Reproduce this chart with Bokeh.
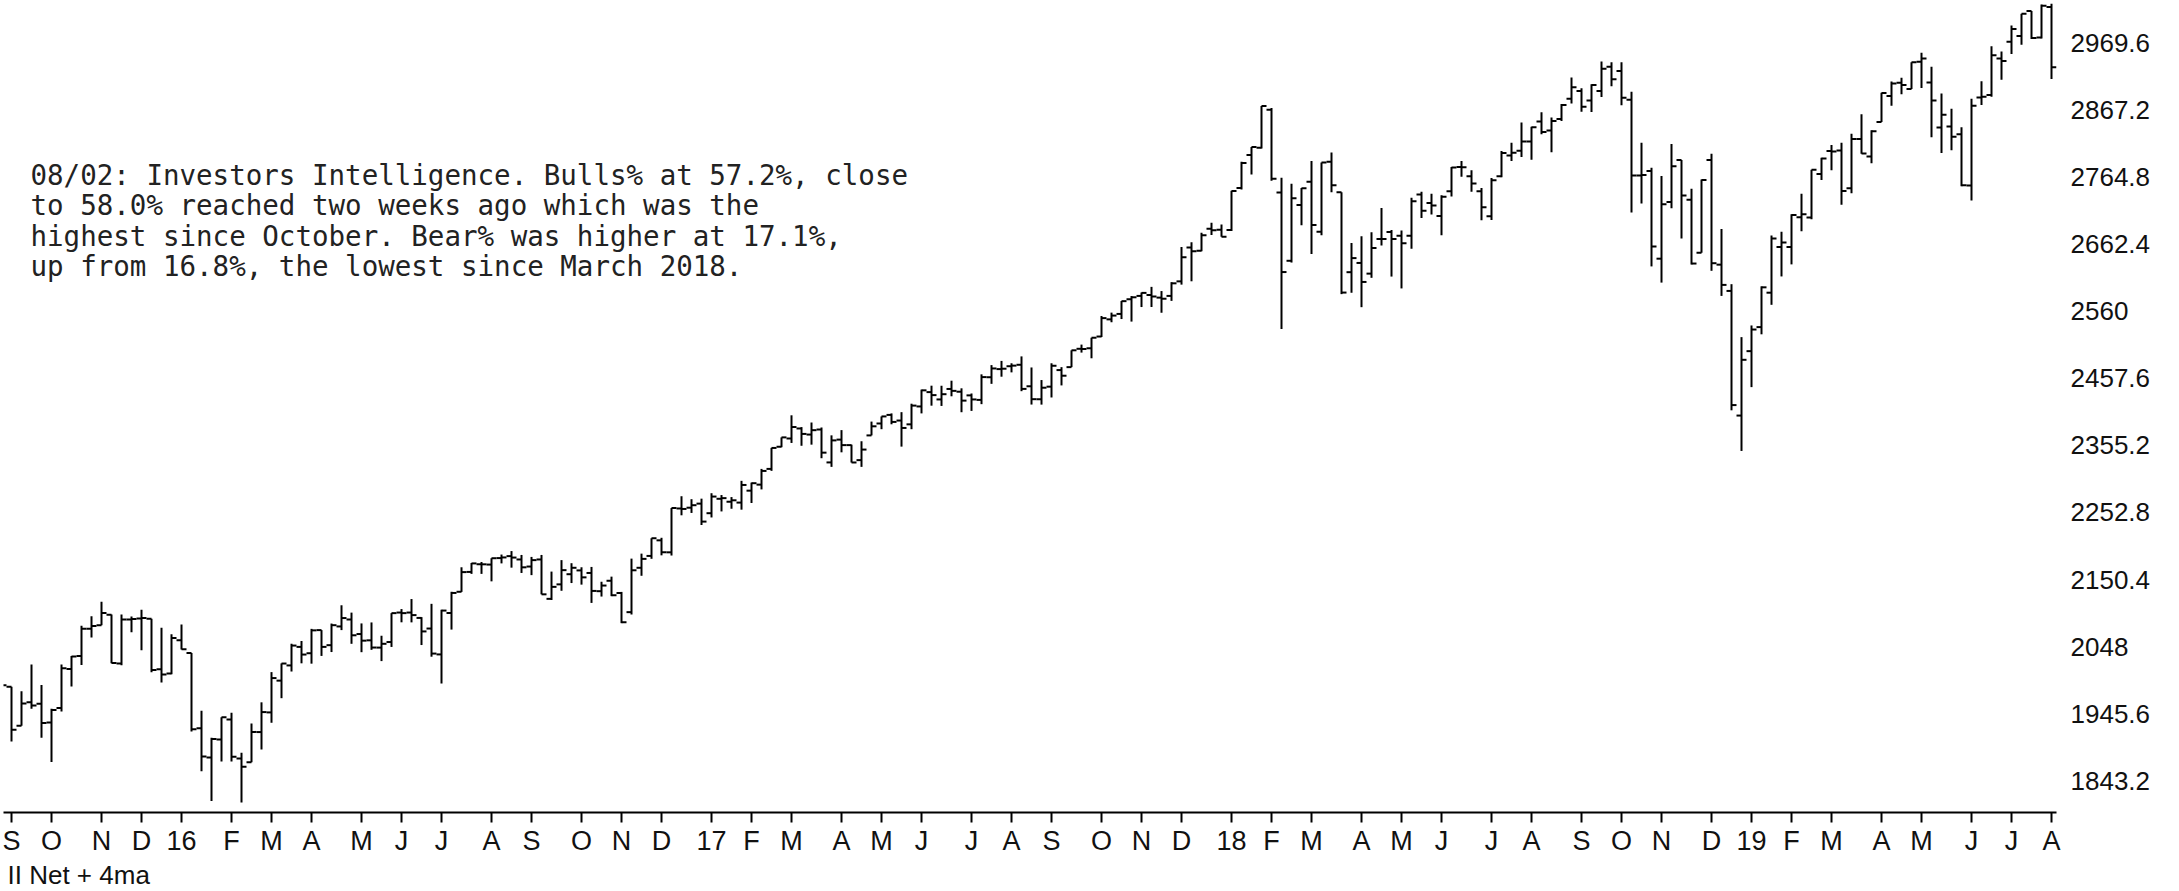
import pandas as pd
from bokeh.plotting import figure
from bokeh.models import ColumnDataSource, Range1d, LinearAxis, FixedTicker, Label, Title
from bokeh.embed import file_html
from bokeh.resources import INLINE

# ---------------- data (weekly bars, week ending Friday) ----------------
week_ending = pd.date_range("2015-08-28", "2019-08-02", freq="W-FRI")

open_ = [
    1965.2, 1986.7, 1927.3, 1963.1, 1960.8, 1932.2, 1954.3, 2013.7, 2033.5, 2075.1,
    2080.8, 2096.6, 2022.1, 2089.4, 2091.0, 2090.4, 2013.4, 2006.8, 2057.8, 2038.2,
    1923.3, 1878.9, 1906.3, 1936.9, 1877.1, 1871.4, 1917.6, 1947.6, 1996.1, 2019.3,
    2047.6, 2037.9, 2073.2, 2050.2, 2078.8, 2089.4, 2067.2, 2057.6, 2046.5, 2055.0,
    2100.0, 2100.0, 2091.8, 2075.6, 2036.1, 2099.3, 2131.7, 2162.0, 2173.7, 2173.2,
    2183.1, 2186.1, 2181.0, 2170.2, 2181.0, 2120.9, 2143.0, 2158.5, 2164.3, 2160.4,
    2132.6, 2148.5, 2129.8, 2100.6, 2168.3, 2186.4, 2210.2, 2191.9, 2258.8, 2260.0,
    2266.2, 2251.6, 2273.6, 2269.1, 2267.8, 2286.0, 2295.2, 2319.2, 2353.0, 2365.6,
    2380.9, 2371.6, 2379.3, 2329.1, 2363.9, 2355.5, 2332.6, 2370.3, 2388.5, 2401.6,
    2393.0, 2387.2, 2414.5, 2436.4, 2425.2, 2441.2, 2437.0, 2431.4, 2424.5, 2459.1,
    2471.5, 2475.9, 2478.1, 2445.3, 2425.5, 2444.7, 2470.0, 2474.5, 2502.5, 2503.3,
    2521.2, 2547.4, 2555.7, 2578.1, 2583.2, 2584.6, 2580.6, 2583.2, 2605.4, 2657.2,
    2652.2, 2685.5, 2684.2, 2683.7, 2747.7, 2798.4, 2809.2, 2867.2, 2741.1, 2636.8,
    2722.0, 2757.4, 2681.1, 2788.1, 2741.4, 2619.4, 2633.5, 2617.2, 2670.1, 2680.8,
    2675.0, 2675.0, 2738.0, 2725.0, 2705.0, 2742.9, 2780.0, 2765.8, 2742.9, 2704.9,
    2765.8, 2797.4, 2804.6, 2819.0, 2849.2, 2835.5, 2853.0, 2884.0, 2896.0, 2881.4,
    2896.0, 2933.0, 2926.3, 2882.5, 2767.1, 2773.9, 2640.0, 2726.4, 2790.5, 2730.0,
    2649.0, 2790.5, 2630.9, 2590.8, 2400.6, 2498.9, 2535.6, 2588.1, 2657.9, 2657.9,
    2703.3, 2702.9, 2769.3, 2804.4, 2805.0, 2747.6, 2822.6, 2796.0, 2848.6, 2888.3,
    2908.3, 2898.8, 2940.6, 2908.9, 2840.2, 2841.9, 2830.0, 2751.5, 2885.8, 2889.8,
    2945.4, 2971.0, 2980.0, 3017.8, 2977.7, 3023.9,
]
high = [
    1993.5, 1986.7, 1980.0, 2020.9, 1989.4, 1953.0, 2020.9, 2033.5, 2079.7, 2094.3,
    2116.5, 2097.0, 2097.1, 2094.0, 2104.3, 2090.4, 2076.7, 2067.0, 2081.6, 2038.2,
    1950.3, 1908.9, 1940.2, 1947.2, 1886.0, 1930.7, 1963.0, 2009.1, 2022.4, 2052.4,
    2056.6, 2075.1, 2073.2, 2083.2, 2111.1, 2099.9, 2083.4, 2084.9, 2064.6, 2099.1,
    2105.3, 2120.6, 2093.0, 2113.3, 2104.3, 2131.7, 2169.1, 2175.6, 2177.1, 2182.9,
    2188.5, 2193.8, 2187.9, 2184.9, 2187.9, 2162.5, 2180.0, 2175.3, 2169.1, 2169.6,
    2147.0, 2154.8, 2131.5, 2182.3, 2189.9, 2213.4, 2214.1, 2259.5, 2277.5, 2273.0,
    2273.8, 2282.1, 2279.3, 2276.2, 2301.0, 2298.3, 2319.2, 2351.3, 2367.3, 2401.0,
    2383.0, 2390.0, 2382.4, 2370.4, 2378.4, 2356.2, 2361.4, 2391.4, 2399.3, 2403.9,
    2405.8, 2418.7, 2440.2, 2446.2, 2446.1, 2453.8, 2442.2, 2434.3, 2463.5, 2477.6,
    2484.0, 2480.4, 2490.9, 2474.0, 2454.8, 2480.4, 2474.5, 2500.2, 2508.9, 2519.4,
    2552.5, 2557.7, 2575.4, 2583.0, 2588.4, 2597.0, 2590.6, 2604.2, 2657.7, 2665.2,
    2679.6, 2695.0, 2692.1, 2743.5, 2787.9, 2810.3, 2872.9, 2870.1, 2763.4, 2754.4,
    2747.8, 2789.2, 2786.6, 2801.9, 2741.4, 2664.0, 2674.4, 2680.3, 2717.5, 2683.6,
    2682.9, 2732.9, 2742.2, 2739.2, 2736.9, 2779.9, 2789.1, 2774.9, 2747.8, 2763.0,
    2804.5, 2816.8, 2848.0, 2841.2, 2863.4, 2855.6, 2876.2, 2916.5, 2900.2, 2906.3,
    2940.9, 2939.9, 2939.9, 2894.8, 2816.9, 2778.9, 2766.3, 2815.2, 2790.5, 2746.8,
    2760.9, 2800.2, 2685.4, 2601.1, 2520.3, 2538.1, 2597.8, 2675.5, 2681.1, 2708.0,
    2739.0, 2775.7, 2794.2, 2813.5, 2816.9, 2830.7, 2860.3, 2836.0, 2893.4, 2910.5,
    2916.1, 2939.9, 2954.1, 2932.8, 2892.2, 2868.9, 2840.5, 2884.0, 2910.6, 2964.2,
    2956.3, 2995.8, 3013.9, 3017.8, 3028.0, 3029.0,
]
low = [
    1867.0, 1903.1, 1927.3, 1953.0, 1908.8, 1871.9, 1949.0, 1987.0, 2020.0, 2062.0,
    2080.8, 2022.6, 2019.4, 2070.0, 2042.4, 2008.8, 1993.3, 2005.9, 2043.6, 1918.5,
    1857.8, 1812.3, 1872.7, 1872.7, 1810.1, 1871.4, 1891.0, 1931.8, 1969.3, 2010.0,
    2022.5, 2022.0, 2033.8, 2039.7, 2073.2, 2052.3, 2039.5, 2043.1, 2025.9, 2047.5,
    2085.1, 2085.0, 2050.4, 2032.6, 1991.7, 2074.0, 2131.5, 2159.0, 2159.0, 2147.6,
    2175.0, 2168.5, 2160.4, 2157.1, 2127.8, 2119.1, 2133.2, 2145.0, 2142.6, 2114.7,
    2124.4, 2125.0, 2083.8, 2097.0, 2156.1, 2182.0, 2187.3, 2187.0, 2248.4, 2252.0,
    2233.6, 2245.1, 2254.3, 2258.4, 2257.0, 2267.2, 2287.9, 2316.2, 2352.3, 2358.8,
    2354.5, 2356.2, 2335.5, 2322.3, 2344.5, 2328.9, 2322.3, 2370.3, 2379.8, 2387.3,
    2353.2, 2379.8, 2403.9, 2415.7, 2415.3, 2430.0, 2405.7, 2407.7, 2418.0, 2449.0,
    2459.9, 2466.5, 2437.8, 2417.4, 2417.3, 2428.2, 2446.6, 2474.5, 2496.7, 2488.0,
    2520.4, 2543.0, 2547.9, 2544.0, 2566.2, 2566.3, 2557.5, 2575.6, 2600.4, 2605.5,
    2651.5, 2676.1, 2673.6, 2682.4, 2745.6, 2768.6, 2808.1, 2759.0, 2532.7, 2634.1,
    2691.0, 2647.3, 2675.8, 2741.4, 2585.9, 2588.0, 2566.0, 2610.8, 2660.0, 2612.7,
    2594.6, 2655.2, 2701.9, 2707.4, 2675.8, 2735.0, 2765.0, 2742.0, 2698.7, 2698.9,
    2764.4, 2789.2, 2795.1, 2791.0, 2830.0, 2802.5, 2850.0, 2877.0, 2864.1, 2864.0,
    2886.9, 2903.3, 2874.3, 2710.5, 2724.4, 2628.2, 2603.5, 2717.0, 2670.8, 2631.1,
    2649.0, 2621.5, 2583.2, 2408.6, 2346.6, 2444.0, 2524.6, 2569.6, 2612.9, 2631.3,
    2681.8, 2700.0, 2760.0, 2775.1, 2722.3, 2739.9, 2800.1, 2785.7, 2848.6, 2873.3,
    2891.0, 2898.8, 2900.5, 2825.4, 2801.4, 2805.5, 2750.5, 2728.8, 2874.7, 2887.0,
    2913.0, 2952.2, 2966.4, 2975.3, 2976.0, 2914.1,
]
close = [
    1988.9, 1921.2, 1961.1, 1958.0, 1931.3, 1951.4, 2014.9, 2033.1, 2075.2, 2079.4,
    2099.2, 2023.0, 2089.2, 2090.1, 2091.7, 2012.4, 2005.6, 2061.0, 2043.9, 1922.0,
    1880.3, 1906.9, 1940.2, 1880.1, 1864.8, 1917.8, 1948.1, 2000.0, 2022.2, 2049.6,
    2035.9, 2072.8, 2047.6, 2080.7, 2091.6, 2065.3, 2057.1, 2046.6, 2052.3, 2099.1,
    2099.1, 2096.1, 2071.2, 2037.4, 2103.0, 2129.9, 2161.7, 2175.0, 2173.6, 2182.9,
    2184.1, 2183.9, 2169.0, 2180.0, 2127.8, 2139.2, 2164.7, 2168.3, 2153.7, 2133.0,
    2141.2, 2126.4, 2085.2, 2164.5, 2181.9, 2213.4, 2192.0, 2259.5, 2258.1, 2263.8,
    2238.8, 2277.0, 2274.6, 2271.3, 2294.7, 2297.4, 2316.1, 2351.2, 2367.3, 2383.1,
    2372.6, 2378.3, 2344.0, 2362.7, 2355.5, 2329.0, 2348.7, 2384.2, 2399.3, 2390.9,
    2381.7, 2415.8, 2439.1, 2431.8, 2433.2, 2438.3, 2423.4, 2425.2, 2459.3, 2472.5,
    2472.1, 2476.8, 2441.3, 2425.6, 2443.1, 2476.6, 2461.4, 2500.2, 2502.2, 2519.4,
    2549.3, 2553.2, 2575.2, 2581.1, 2587.8, 2582.3, 2578.9, 2602.4, 2642.2, 2651.5,
    2675.8, 2683.3, 2673.6, 2743.2, 2786.2, 2810.3, 2872.9, 2762.1, 2619.6, 2732.2,
    2747.3, 2691.3, 2786.6, 2752.0, 2588.3, 2640.9, 2604.5, 2656.3, 2670.1, 2669.9,
    2663.4, 2727.7, 2713.0, 2721.3, 2734.6, 2779.0, 2779.7, 2754.9, 2718.4, 2759.8,
    2801.3, 2801.8, 2818.8, 2840.4, 2833.3, 2850.1, 2874.7, 2901.5, 2871.7, 2905.0,
    2929.7, 2914.0, 2885.6, 2767.1, 2767.8, 2658.7, 2723.1, 2781.0, 2736.3, 2632.6,
    2760.2, 2633.1, 2600.0, 2416.6, 2485.7, 2531.9, 2596.3, 2670.7, 2664.8, 2706.5,
    2707.9, 2775.6, 2792.7, 2803.7, 2743.1, 2822.5, 2800.7, 2834.4, 2892.7, 2907.4,
    2905.0, 2939.9, 2945.6, 2881.4, 2859.5, 2826.1, 2752.1, 2873.3, 2887.0, 2950.5,
    2941.8, 2990.4, 3013.8, 2976.6, 3025.9, 2932.1,
]

month_labels = [
    "S", "O", "N", "D",
    "16", "F", "M", "A", "M", "J", "J", "A", "S", "O", "N", "D",
    "17", "F", "M", "A", "M", "J", "J", "A", "S", "O", "N", "D",
    "18", "F", "M", "A", "M", "J", "J", "A", "S", "O", "N", "D",
    "19", "F", "M", "A", "M", "J", "J", "A",
]

price_ticks = [1843.2, 1945.6, 2048.0, 2150.4, 2252.8, 2355.2,
               2457.6, 2560.0, 2662.4, 2764.8, 2867.2, 2969.6]
price_tick_labels = ["1843.2", "1945.6", "2048", "2150.4", "2252.8", "2355.2",
                     "2457.6", "2560", "2662.4", "2764.8", "2867.2", "2969.6"]

note_lines = [
    "08/02: Investors Intelligence. Bulls% at 57.2%, close",
    "to 58.0% reached two weeks ago which was the",
    "highest since October. Bear% was higher at 17.1%,",
    "up from 16.8%, the lowest since March 2018.",
]
footer_text = "II Net + 4ma"

# ---------------- build ----------------
n = len(week_ending)
idx = list(range(n))
src = ColumnDataSource(dict(
    x=idx,
    xo=[i - 0.5 for i in idx],
    xc=[i + 0.5 for i in idx],
    open=open_, high=high, low=low, close=close,
))

# first week of every month gets a tick
tick_idx = [i for i in range(1, n) if week_ending[i].month != week_ending[i - 1].month]

p = figure(width=2160, height=888, output_backend="svg", toolbar_location=None,
           x_range=Range1d(0.2, 205.5), y_range=Range1d(1794.86, 3034.0),
           y_axis_location=None)
p.min_border_left = 3
p.min_border_top = 0
p.min_border_right = 104
p.min_border_bottom = 75
p.outline_line_color = None
p.xgrid.visible = False
p.ygrid.visible = False
p.background_fill_color = "white"
p.border_fill_color = "white"

p.segment(x0="x", y0="low", x1="x", y1="high", source=src, line_color="black", line_width=2)
p.segment(x0="xo", y0="open", x1="x", y1="open", source=src, line_color="black", line_width=2)
p.segment(x0="x", y0="close", x1="xc", y1="close", source=src, line_color="black", line_width=2)

xa = p.xaxis[0]
xa.ticker = FixedTicker(ticks=tick_idx)
xa.major_label_overrides = {t: lab for t, lab in zip(tick_idx, month_labels)}
xa.minor_tick_line_color = None
xa.axis_line_color = "black"
xa.axis_line_width = 2
xa.major_tick_line_color = "black"
xa.major_tick_line_width = 2
xa.major_tick_out = 10
xa.major_tick_in = 0
xa.major_label_standoff = 3
xa.major_label_text_font = "Liberation Sans"
xa.major_label_text_font_size = "27px"
xa.major_label_text_color = "#111111"

ya = LinearAxis(ticker=FixedTicker(ticks=price_ticks),
                major_label_overrides=dict(zip(price_ticks, price_tick_labels)))
ya.axis_line_color = None
ya.major_tick_line_color = None
ya.minor_tick_line_color = None
ya.major_tick_out = 0
ya.major_tick_in = 0
ya.major_label_standoff = 14
ya.major_label_text_font = "Liberation Sans"
ya.major_label_text_font_size = "26px"
ya.major_label_text_color = "#111111"
p.add_layout(ya, "right")

p.add_layout(Title(text=footer_text, align="left", offset=4, standoff=-2,
                   text_font="Liberation Sans", text_font_size="26px",
                   text_font_style="normal", text_color="#111111"), "below")

note_y = [638, 608, 577, 547]
for line, yy in zip(note_lines, note_y):
    p.add_layout(Label(x=27, y=yy, x_units="screen", y_units="screen", text=line,
                       text_font="DejaVu Sans Mono", text_font_size="27.5px",
                       text_color="#222222", text_baseline="middle"))

open("out.html", "w").write(file_html(p, INLINE))
